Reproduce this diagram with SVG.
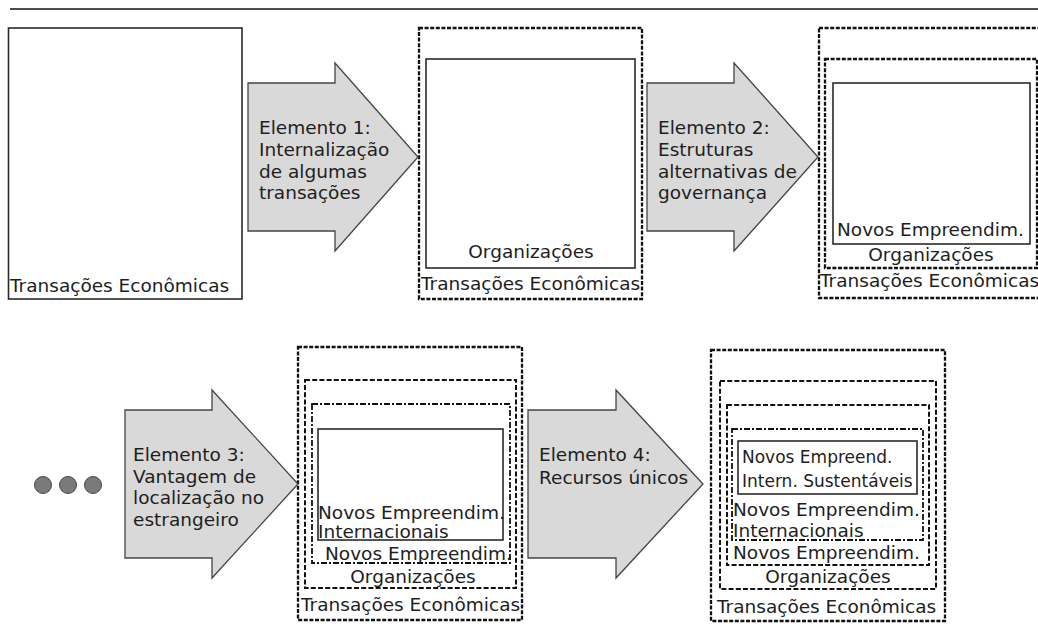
<svg xmlns="http://www.w3.org/2000/svg" width="1038" height="636" viewBox="0 0 1038 636">
  <style>
    text { font-family: "DejaVu Sans", Verdana, sans-serif; font-size: 18.5px; fill: #1e1e1e; }
    .small { font-size: 17px; }
    .mid { text-anchor: middle; }
    .solid { fill: none; stroke: #2a2a2a; stroke-width: 1.6; }
    .dash1 { fill: none; stroke: #111; stroke-width: 2.3; stroke-dasharray: 4 1.6; }
    .dash2 { fill: none; stroke: #111; stroke-width: 2; stroke-dasharray: 5 2.2; }
    .dash3 { fill: none; stroke: #111; stroke-width: 1.8; stroke-dasharray: 6 2 2 2; }
    .arrow { fill: #d9d9d9; stroke: #444; stroke-width: 1.3; stroke-linejoin: miter; }
    .dot { fill: #7a7a7a; stroke: #4a4a4a; stroke-width: 1; }
  </style>

  <rect width="1038" height="636" fill="#fff"/>

  <!-- header rule -->
  <line x1="10" y1="9" x2="1038" y2="9" stroke="#111" stroke-width="1.6"/>

  <!-- stage 1: economic transactions only -->
  <g id="stage1">
    <rect class="solid" x="8.5" y="28" width="233.5" height="271"/>
    <text x="10" y="292">Transações Econômicas</text>
  </g>

  <!-- stage 2: organizations inside transactions -->
  <g id="stage2">
    <rect class="dash1" x="419" y="28" width="223" height="271"/>
    <rect class="solid" x="426" y="59" width="209" height="209"/>
    <text class="mid" x="531" y="258">Organizações</text>
    <text x="421" y="290">Transações Econômicas</text>
  </g>

  <!-- stage 3: new ventures -->
  <g id="stage3">
    <rect class="dash1" x="819" y="28" width="225" height="270"/>
    <rect class="dash1" x="825" y="59" width="212" height="209"/>
    <rect class="solid" x="833" y="83" width="197" height="161"/>
    <text x="837" y="236">Novos Empreendim.</text>
    <text class="mid" x="931" y="261">Organizações</text>
    <text x="820" y="287">Transações Econômicas</text>
  </g>

  <!-- ellipsis -->
  <g id="ellipsis">
    <circle class="dot" cx="43" cy="485" r="8.5"/>
    <circle class="dot" cx="68" cy="485" r="8.5"/>
    <circle class="dot" cx="93" cy="485" r="8.5"/>
  </g>

  <!-- stage 4: international new ventures -->
  <g id="stage4">
    <rect class="dash1" x="298" y="347" width="224" height="273"/>
    <rect class="dash2" x="305" y="380" width="211" height="208"/>
    <rect class="dash3" x="312" y="404" width="198" height="159"/>
    <rect class="solid" x="318" y="429" width="185" height="111"/>
    <text x="318" y="519">Novos Empreendim.</text>
    <text x="318" y="538">Internacionais</text>
    <text x="325" y="560">Novos Empreendim.</text>
    <text class="mid" x="413" y="583">Organizações</text>
    <text x="301" y="611">Transações Econômicas</text>
  </g>

  <!-- stage 5: sustainable international new ventures -->
  <g id="stage5">
    <rect class="dash1" x="711" y="350" width="234" height="271"/>
    <rect class="dash2" x="720" y="381" width="216" height="208"/>
    <rect class="dash2" x="727" y="405" width="202" height="160"/>
    <rect class="dash3" x="732" y="429" width="191" height="111"/>
    <rect class="solid" x="738" y="441" width="179" height="53"/>
    <text class="small" x="742" y="463">Novos Empreend.</text>
    <text class="small" x="742" y="487">Intern. Sustentáveis</text>
    <text x="733" y="516">Novos Empreendim.</text>
    <text x="733" y="537">Internacionais</text>
    <text x="733" y="559">Novos Empreendim.</text>
    <text class="mid" x="828" y="583">Organizações</text>
    <text x="717" y="613">Transações Econômicas</text>
  </g>

  <!-- block arrows between stages -->
  <g id="connectors">
    <g id="element1">
      <path class="arrow" d="M248,83 H335 V63 L418,157 L335,251 V231 H248 Z"/>
      <text x="259" y="134">Elemento 1:</text>
      <text x="259" y="156">Internalização</text>
      <text x="259" y="178">de algumas</text>
      <text x="259" y="199">transações</text>
    </g>
    <g id="element2">
      <path class="arrow" d="M647,83 H734 V63 L818,157 L734,251 V231 H647 Z"/>
      <text x="658" y="134">Elemento 2:</text>
      <text x="658" y="156">Estruturas</text>
      <text x="658" y="178">alternativas de</text>
      <text x="658" y="199">governança</text>
    </g>
    <g id="element3">
      <path class="arrow" d="M125,410 H212 V390 L298,484 L212,578 V558 H125 Z"/>
      <text x="133" y="461">Elemento 3:</text>
      <text x="133" y="483">Vantagem de</text>
      <text x="133" y="504">localização no</text>
      <text x="133" y="526">estrangeiro</text>
    </g>
    <g id="element4">
      <path class="arrow" d="M528,410 H616 V390 L703,484 L616,578 V558 H528 Z"/>
      <text x="539" y="461">Elemento 4:</text>
      <text x="539" y="484">Recursos únicos</text>
    </g>
  </g>
</svg>
